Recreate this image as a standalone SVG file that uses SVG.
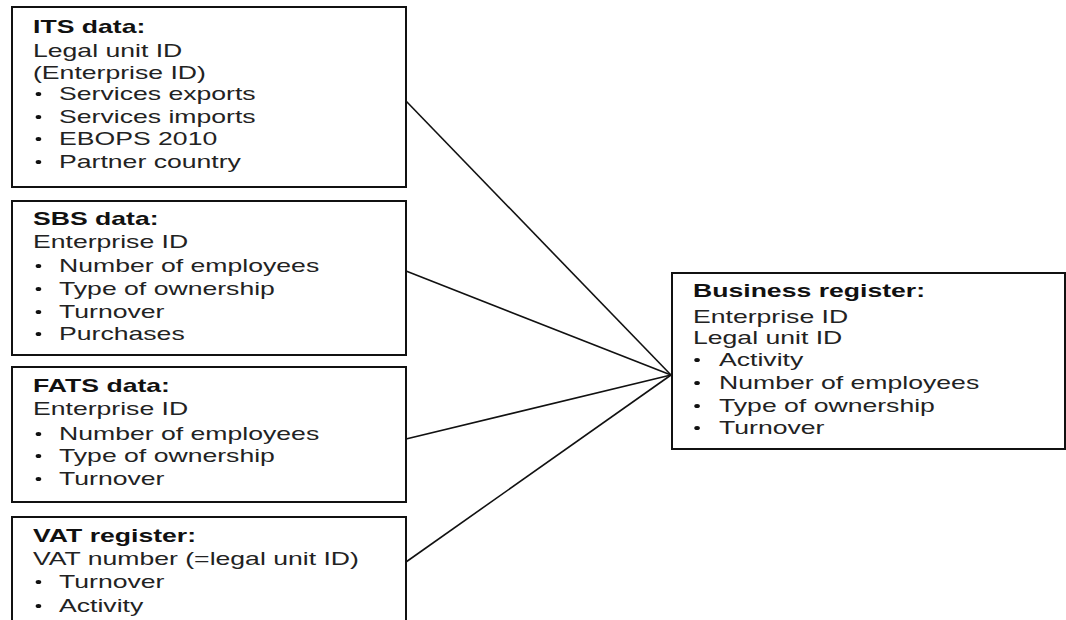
<svg xmlns="http://www.w3.org/2000/svg" width="1066" height="620" viewBox="0 0 1066 620">
<style>
.box{fill:#fff;stroke:#111;stroke-width:2}
.t{font-family:"Liberation Sans",Arial,sans-serif;font-size:19px;font-weight:bold;fill:#111}
.b{font-family:"Liberation Sans",Arial,sans-serif;font-size:19px;fill:#222}
.dot{fill:#111}
.conn{stroke:#111;stroke-width:1.6;fill:none}
</style>
<rect width="1066" height="620" fill="#fff"/>
<g id="connectors">
<line class="conn" x1="406" y1="101" x2="671" y2="375"/>
<line class="conn" x1="406" y1="271" x2="671" y2="375"/>
<line class="conn" x1="406" y1="439" x2="671" y2="375"/>
<line class="conn" x1="406" y1="562" x2="671" y2="375"/>
</g>
<g id="its">
<rect class="box" x="12" y="7" width="394" height="180"/>
<g transform="translate(33,0) scale(1.4,1)">
<text class="t" x="0" y="33">ITS data:</text>
<text class="b" x="0" y="57">Legal unit ID</text>
<text class="b" x="0" y="79">(Enterprise ID)</text>
<circle class="dot" cx="3.9" cy="94" r="2"/><text class="b" x="18.6" y="100">Services exports</text>
<circle class="dot" cx="3.9" cy="117" r="2"/><text class="b" x="18.6" y="123">Services imports</text>
<circle class="dot" cx="3.9" cy="139" r="2"/><text class="b" x="18.6" y="145">EBOPS 2010</text>
<circle class="dot" cx="3.9" cy="162" r="2"/><text class="b" x="18.6" y="168">Partner country</text>
</g>
</g>
<g id="sbs">
<rect class="box" x="12" y="201" width="394" height="154"/>
<g transform="translate(33,0) scale(1.4,1)">
<text class="t" x="0" y="225">SBS data:</text>
<text class="b" x="0" y="248">Enterprise ID</text>
<circle class="dot" cx="3.9" cy="266" r="2"/><text class="b" x="18.6" y="272">Number of employees</text>
<circle class="dot" cx="3.9" cy="289" r="2"/><text class="b" x="18.6" y="295">Type of ownership</text>
<circle class="dot" cx="3.9" cy="312" r="2"/><text class="b" x="18.6" y="318">Turnover</text>
<circle class="dot" cx="3.9" cy="334" r="2"/><text class="b" x="18.6" y="340">Purchases</text>
</g>
</g>
<g id="fats">
<rect class="box" x="12" y="367" width="394" height="135"/>
<g transform="translate(33,0) scale(1.4,1)">
<text class="t" x="0" y="392">FATS data:</text>
<text class="b" x="0" y="415">Enterprise ID</text>
<circle class="dot" cx="3.9" cy="434" r="2"/><text class="b" x="18.6" y="440">Number of employees</text>
<circle class="dot" cx="3.9" cy="456" r="2"/><text class="b" x="18.6" y="462">Type of ownership</text>
<circle class="dot" cx="3.9" cy="479" r="2"/><text class="b" x="18.6" y="485">Turnover</text>
</g>
</g>
<g id="vat">
<rect class="box" x="12" y="517" width="394" height="120"/>
<g transform="translate(33,0) scale(1.4,1)">
<text class="t" x="0" y="542">VAT register:</text>
<text class="b" x="0" y="565">VAT number (=legal unit ID)</text>
<circle class="dot" cx="3.9" cy="582" r="2"/><text class="b" x="18.6" y="588">Turnover</text>
<circle class="dot" cx="3.9" cy="606" r="2"/><text class="b" x="18.6" y="612">Activity</text>
</g>
</g>
<g id="business-register">
<rect class="box" x="672" y="273" width="393" height="176"/>
<g transform="translate(693,0) scale(1.4,1)">
<text class="t" x="0" y="297">Business register:</text>
<text class="b" x="0" y="323">Enterprise ID</text>
<text class="b" x="0" y="344">Legal unit ID</text>
<circle class="dot" cx="2.9" cy="360" r="2"/><text class="b" x="18.6" y="366">Activity</text>
<circle class="dot" cx="2.9" cy="383" r="2"/><text class="b" x="18.6" y="389">Number of employees</text>
<circle class="dot" cx="2.9" cy="406" r="2"/><text class="b" x="18.6" y="412">Type of ownership</text>
<circle class="dot" cx="2.9" cy="428" r="2"/><text class="b" x="18.6" y="434">Turnover</text>
</g>
</g>
</svg>
